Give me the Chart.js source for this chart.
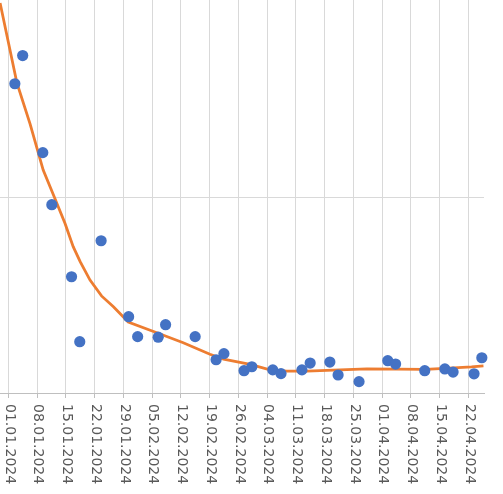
<!DOCTYPE html>
<html>
<head>
<meta charset="utf-8">
<script src="https://cdn.jsdelivr.net/npm/chart.js@4/dist/chart.umd.min.js"></script>
<style>
  html, body { margin: 0; padding: 0; background: #ffffff; }
  #wrap { width: 503px; height: 494px; }
</style>
</head>
<body>
<div id="wrap"><canvas id="c" width="503" height="494"></canvas></div>
<script>
// Tick labels (weekly, dd.mm.yyyy)
const tickLabels = ["01.01.2024","08.01.2024","15.01.2024","22.01.2024","29.01.2024","05.02.2024","12.02.2024","19.02.2024","26.02.2024","04.03.2024","11.03.2024","18.03.2024","25.03.2024","01.04.2024","08.04.2024","15.04.2024","22.04.2024"];

// Observations: x = days since 01.01.2024, y = value
const pointDays = [1.6, 3.5, 8.4, 10.6, 15.4, 17.4, 22.6, 29.3, 31.5, 36.5, 38.3, 45.5, 50.6, 52.5, 57.4, 59.3, 64.4, 66.4, 71.5, 73.5, 78.3, 80.3, 85.4, 92.4, 94.3, 101.4, 106.3, 108.3, 113.4, 115.3];
const pointValues = [158.0, 172.4, 122.8, 96.2, 59.4, 26.2, 77.8, 39.0, 28.8, 28.5, 34.9, 28.8, 17.0, 20.1, 11.4, 13.4, 11.8, 9.9, 11.8, 15.3, 15.8, 9.2, 5.8, 16.5, 14.8, 11.4, 12.3, 10.7, 9.8, 18.0];

// Trend line vertices
const trendDays = [-2.0, -0.1, 2.1, 5.3, 8.5, 11.0, 13.8, 15.8, 17.5, 19.9, 22.7, 25.6, 29.2, 36.5, 42.6, 49.1, 52.4, 58.9, 63.7, 67.8, 72.7, 80.8, 87.3, 101.5, 106.3, 112.8, 115.7];
const trendValues = [199.3, 180.4, 158.4, 137.5, 113.9, 101.2, 86.7, 74.8, 67.1, 57.7, 49.6, 44.1, 36.3, 30.5, 25.7, 19.8, 17.3, 14.6, 11.8, 11.2, 11.2, 11.8, 12.3, 12.1, 12.6, 13.4, 13.9];

const X_MIN = -2.02, X_MAX = 115.83;
const Y_MIN = 0, Y_MAX = 200.8;
const yGridValues = [0, 100];

function dayOf(label) {
  const [d, m, y] = label.split('.').map(Number);
  return Math.round((Date.UTC(y, m - 1, d) - Date.UTC(2024, 0, 1)) / 86400000);
}
const tickDays = tickLabels.map(dayOf);

const scatterData = pointDays.map((d, i) => ({ x: d, y: pointValues[i] }));
const trendData = trendDays.map((d, i) => ({ x: d, y: trendValues[i] }));

const rotatedLabels = {
  id: 'rotatedLabels',
  afterDraw(chart) {
    const xs = chart.scales.x;
    const ctx = chart.ctx;
    ctx.save();
    ctx.font = '14px "DejaVu Sans"';
    ctx.fillStyle = '#595959';
    ctx.textAlign = 'left';
    ctx.textBaseline = 'middle';
    const y0 = chart.chartArea.bottom + 11;
    tickDays.forEach((d, i) => {
      const px = xs.getPixelForValue(d);
      ctx.save();
      ctx.translate(px + 1, y0);
      ctx.rotate(Math.PI / 2);
      ctx.fillText(tickLabels[i], 0, 0);
      ctx.restore();
    });
    ctx.restore();
  }
};

new Chart(document.getElementById('c'), {
  type: 'scatter',
  data: {
    datasets: [
      {
        label: 'Werte',
        data: scatterData,
        backgroundColor: '#4472C4',
        borderColor: '#4472C4',
        borderWidth: 0,
        pointRadius: 5.6,
        pointHoverRadius: 5.6,
        clip: false
      },
      {
        label: 'Trend',
        type: 'line',
        data: trendData,
        borderColor: '#ED7D31',
        backgroundColor: '#ED7D31',
        borderWidth: 2.8,
        pointRadius: 0,
        tension: 0,
        fill: false
      }
    ]
  },
  options: {
    responsive: false,
    animation: false,
    layout: { autoPadding: false, padding: { left: 0, right: 19, top: 0, bottom: 0 } },
    plugins: { legend: { display: false }, tooltip: { enabled: false } },
    scales: {
      x: {
        type: 'linear',
        min: X_MIN,
        max: X_MAX,
        afterBuildTicks(scale) { scale.ticks = tickDays.map(v => ({ value: v })); },
        afterFit(scale) { scale.height = 101; },
        ticks: { display: false },
        grid: { color: '#d9d9d9', lineWidth: 1, drawTicks: true, tickLength: 5, tickColor: '#bfbfbf' },
        border: { display: true, color: '#bfbfbf', width: 1 }
      },
      y: {
        type: 'linear',
        min: Y_MIN,
        max: Y_MAX,
        afterBuildTicks(scale) { scale.ticks = yGridValues.map(v => ({ value: v })); },
        afterFit(scale) { scale.width = 0; },
        ticks: { display: false },
        grid: { color: '#d9d9d9', lineWidth: 1, drawTicks: false },
        border: { display: false }
      }
    }
  },
  plugins: [rotatedLabels]
});
</script>
</body>
</html>
